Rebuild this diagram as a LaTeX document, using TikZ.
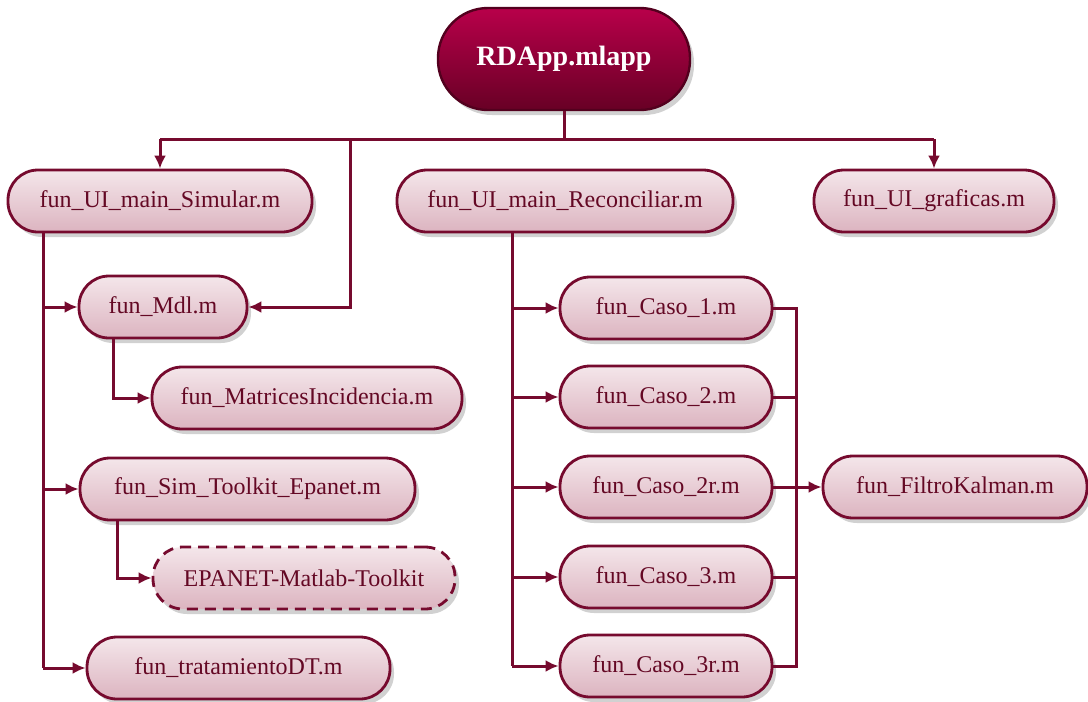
\documentclass[tikz,border=0pt]{standalone}
\usepackage{fontspec}
\setmainfont{Liberation Serif}
\usetikzlibrary{arrows.meta,shadows}
\definecolor{maroon}{HTML}{760A2E}
\definecolor{txtc}{HTML}{640824}
\definecolor{lightA}{HTML}{F4E6EA}
\definecolor{lightB}{HTML}{DCB4C0}
\definecolor{darkA}{HTML}{B8004A}
\definecolor{darkB}{HTML}{680025}
\tikzset{
  box/.style={rectangle, rounded corners=30pt, draw=maroon, line width=2.8pt,
    top color=lightA, bottom color=lightB, text=txtc, minimum height=62pt,
    inner sep=0pt, font=\fontsize{24}{28}\selectfont,
    drop shadow={shadow xshift=4pt, shadow yshift=-5pt, opacity=0.3, fill=black!60}},
  dbox/.style={box, dash pattern=on 11pt off 7pt},
  topbox/.style={rectangle, rounded corners=50pt, draw=darkB!80!black, line width=2.4pt,
    top color=darkA, bottom color=darkB, text=white, minimum height=102pt, minimum width=252pt,
    inner sep=0pt, font=\fontsize{28}{32}\selectfont\bfseries,
    drop shadow={shadow xshift=4pt, shadow yshift=-5pt, opacity=0.3, fill=black!60}},
  conn/.style={draw=maroon, line width=3pt},
  arr/.style={conn, -{Latex[length=13pt,width=12pt]}}
}
\begin{document}
\begin{tikzpicture}[x=1pt,y=-1pt]
\useasboundingbox (0,0) rectangle (1088,702);
% nodes
\node[topbox] (top) at (564,59) {RDApp.mlapp};
\node[box, minimum width=304pt] (sim) at (160,201) {fun\_UI\_main\_Simular.m};
\node[box, minimum width=336pt] (rec) at (565,201) {fun\_UI\_main\_Reconciliar.m};
\node[box, minimum width=240pt] (graf) at (934,201) {fun\_UI\_graficas.m};
\node[box, minimum width=168pt] (mdl) at (163,307) {fun\_Mdl.m};
\node[box, minimum width=310pt] (mat) at (307,398) {fun\_MatricesIncidencia.m};
\node[box, minimum width=335pt] (tool) at (247.5,489) {fun\_Sim\_Toolkit\_Epanet.m};
\node[dbox, minimum width=302pt] (epa) at (304,578) {EPANET-Matlab-Toolkit};
\node[box, minimum width=303pt] (trat) at (238.5,668) {fun\_tratamientoDT.m};
\node[box, minimum width=212pt] (c1) at (666,308) {fun\_Caso\_1.m};
\node[box, minimum width=212pt] (c2) at (666,397) {fun\_Caso\_2.m};
\node[box, minimum width=212pt] (c2r) at (666,487) {fun\_Caso\_2r.m};
\node[box, minimum width=212pt] (c3) at (666,577) {fun\_Caso\_3.m};
\node[box, minimum width=212pt] (c3r) at (666,666) {fun\_Caso\_3r.m};
\node[box, minimum width=264pt] (kal) at (955,487) {fun\_FiltroKalman.m};
% helper coordinates
\coordinate (busL) at (160,139);
\coordinate (busM) at (350,139);
\coordinate (busR) at (934,139);
\coordinate (tL) at (43,0);
\coordinate (tM) at (113,0);
\coordinate (tT) at (117,0);
\coordinate (tR) at (512,0);
\coordinate (rb) at (796,0);
% top bus
\draw[conn] (top.south) -- (top.south |- busL);
\draw[conn] (busL) -- (busR);
\draw[arr] (busL) -- (sim.north);
\draw[arr] (busR) -- (graf.north);
\draw[arr] (busM) |- (mdl.east);
% simular trunk
\draw[conn] (tL |- sim.south) -- (tL |- trat.west);
\draw[arr] (tL |- mdl.west) -- (mdl.west);
\draw[arr] (tL |- tool.west) -- (tool.west);
\draw[arr] (tL |- trat.west) -- (trat.west);
\draw[arr] (tM |- mdl.south) |- (mat.west);
\draw[arr] (tT |- tool.south) |- (epa.west);
% reconciliar trunk
\draw[conn] (tR |- rec.south) -- (tR |- c3r.west);
\foreach \n in {c1,c2,c2r,c3,c3r} \draw[arr] (tR |- \n.west) -- (\n.west);
% right bus
\draw[conn] (c1.east) -| (rb |- c3r.east) -- (c3r.east);
\draw[conn] (c2.east) -- (rb |- c2.east);
\draw[conn] (c3.east) -- (rb |- c3.east);
\draw[arr] (c2r.east) -- (kal.west);
\end{tikzpicture}
\end{document}
